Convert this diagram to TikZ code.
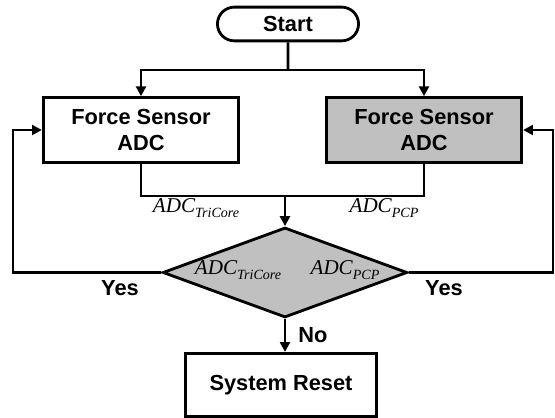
\documentclass[tikz,border=0pt]{standalone}
\usepackage{fontspec}
\setmainfont{Liberation Sans}
\newfontfamily\adcfont{Liberation Serif}
\usetikzlibrary{arrows.meta}
\usetikzlibrary{shapes}
\definecolor{sgrau}{HTML}{C0C0C0}
\newcommand{\adclabel}[1]{{\adcfont\mdseries\itshape\fontsize{15}{17}\selectfont ADC\raisebox{-0.5ex}{\fontsize{10}{10}\selectfont #1}}}

\begin{document}
\begin{tikzpicture}[x=0.025cm, y=-0.025cm, >={Triangle[length=7pt,width=7pt]},
    every node/.style={font=\fontsize{15.5}{18}\selectfont\bfseries},
    box/.style={draw, line width=2pt, minimum width=139pt, minimum height=46pt, align=center}]
    \useasboundingbox (0,0) rectangle (555,418);
        \node[shape=rounded rectangle, draw, line width=2pt, minimum width=107pt, minimum height=24pt] (START) at (288, 24) {Start};
        \node[box] (FSL) at (141, 130) {Force Sensor\\ADC};
        \node[box, fill=sgrau] (FSR) at (424, 130) {Force Sensor\\ADC};
        \node[shape=diamond, draw, line width=2pt, fill=sgrau, inner sep=0pt, minimum width=174pt, minimum height=64pt] (CMP) at (285, 272.5) {};
        \node[box, minimum width=136pt, minimum height=45pt] (RESET) at (281, 385) {System Reset};
        \coordinate (SPLIT) at (288, 70);
        \coordinate (MERGE) at (285, 196);
        \coordinate (LBEND) at (13, 272.5);
        \coordinate (RBEND) at (553, 272.5);
        \begin{scope}[line width=2pt]
            \draw (START) -- (SPLIT);
            \draw[->] (SPLIT) -| (FSL);
            \draw[->] (SPLIT) -| (FSR);
            \draw (FSL) |- (MERGE);
            \draw (FSR) |- (MERGE);
            \draw[->] (MERGE) -- (CMP.north);
            \draw[->] (CMP.west) -- (LBEND) |- (FSL);
            \draw[->] (CMP.east) -- (RBEND) |- (FSR);
            \draw[->] (CMP.south) -- (CMP.south |- RESET.north);
        \end{scope}
        \node (TRI) at (196, 208) {\adclabel{TriCore}};
        \node (PCP) at (384, 208) {\adclabel{PCP}};
        \node (TRIIN) at (238, 270) {\adclabel{TriCore}};
        \node (PCPIN) at (345, 270) {\adclabel{PCP}};
        \node (YESL) at (120, 288) {Yes};
        \node (YESR) at (444, 288) {Yes};
        \node (NO) at (313, 335) {No};
    \end{tikzpicture}
\end{document}
